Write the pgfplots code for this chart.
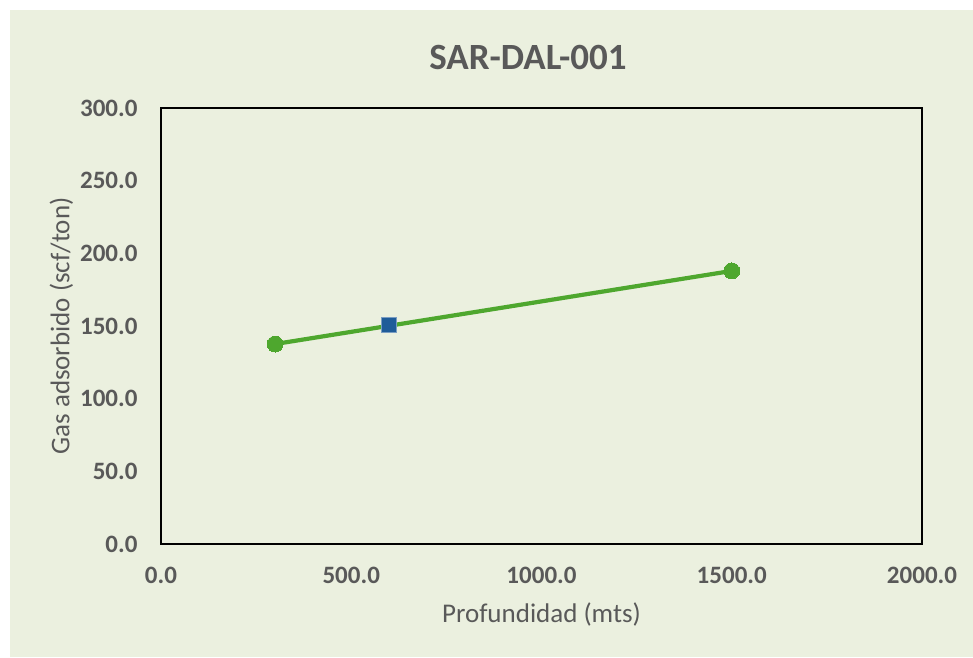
\documentclass[border=0pt]{standalone}
\usepackage{pgfplots}
\pgfplotsset{compat=1.18}
\usepackage{fontspec}
\setmainfont{Carlito}
\definecolor{bgc}{HTML}{EBF0DF}
\definecolor{txt}{HTML}{595959}
\definecolor{grn}{HTML}{4EA72E}
\definecolor{blu}{HTML}{1F5C99}
\begin{document}
\begin{tikzpicture}[x=1pt,y=1pt]
\useasboundingbox (0,0) rectangle (973,657);
\fill[white] (0,0) rectangle (973,657);
\fill[bgc] (10,0) rectangle (973,647);
\node[font=\fontsize{37}{42}\selectfont\bfseries, text=txt] at (528,600) {SAR-DAL-001};
\begin{axis}[at={(161pt,113pt)}, anchor=south west, scale only axis,
  width=761pt, height=436pt,
  xmin=0, xmax=2000, ymin=0, ymax=300,
  xtick={0,500,...,2000}, ytick={0,50,...,300},
  axis line style={black, line width=1.6pt},
  major tick length=0pt,
  tick label style={font=\fontsize{25}{30}\selectfont\bfseries, text=txt},
  /pgf/number format/assume math mode=true,
  /pgf/number format/.cd, fixed, fixed zerofill, precision=1, use period, 1000 sep={},
  /pgfplots/.cd,
  xticklabel style={yshift=-20pt},
  yticklabel style={xshift=-20pt},
  xlabel={Profundidad (mts)}, ylabel={Gas adsorbido (scf/ton)},
  label style={font=\fontsize{27}{32}\selectfont, text=txt},
  xlabel style={yshift=-12pt},
  ylabel style={yshift=0pt},
  clip=false]
\addplot[grn, line width=4.2pt, mark=*, mark size=8pt, mark options={fill=grn, draw=grn, line width=0pt}]
  coordinates {(300,137.6) (1500,187.9)};
\addplot[only marks, mark=square*, mark size=7.5pt, mark options={fill=blu, draw=blu!60!white, line width=0.8pt}]
  coordinates {(600,150.7)};
\end{axis}
\end{tikzpicture}
\end{document}
